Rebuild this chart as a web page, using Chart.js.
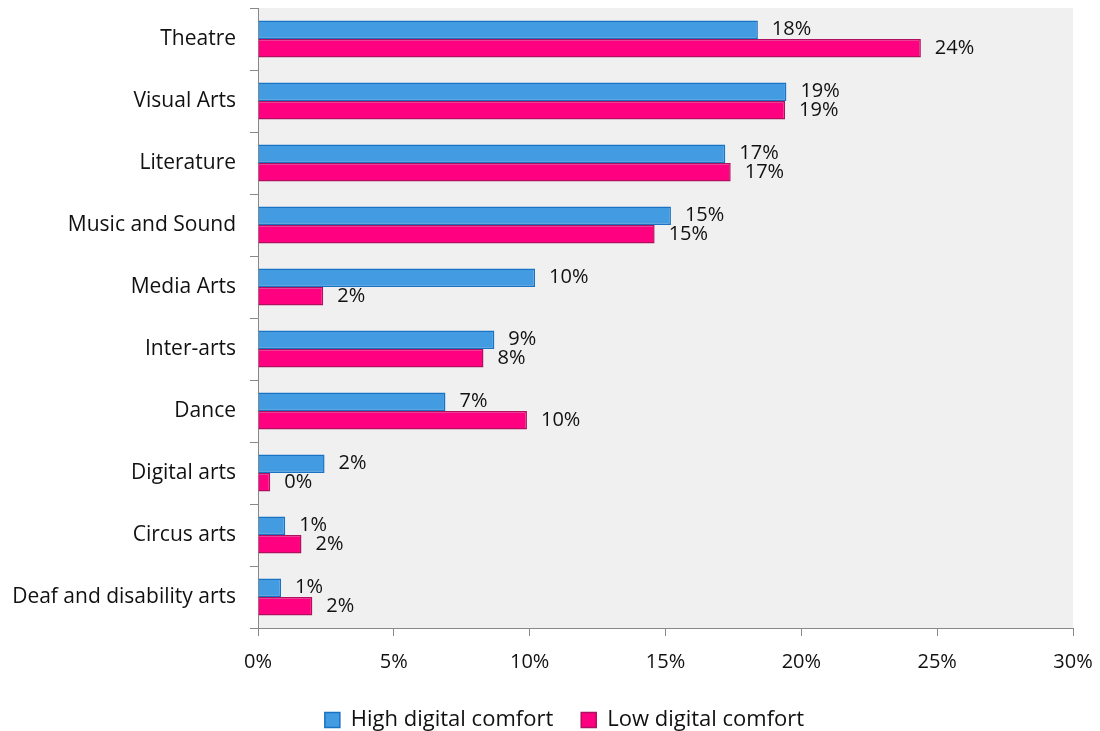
<!DOCTYPE html>
<html>
<head>
<meta charset="utf-8">
<script src="https://cdn.jsdelivr.net/npm/chart.js@4"></script>
<style>
  html, body { margin: 0; padding: 0; background: #fff; overflow: hidden; }
  canvas { display: block; }
</style>
</head>
<body>
<canvas id="chart" width="1100" height="741"></canvas>
<script>
const categories = ['Theatre', 'Visual Arts', 'Literature', 'Music and Sound', 'Media Arts',
  'Inter-arts', 'Dance', 'Digital arts', 'Circus arts', 'Deaf and disability arts'];
const highComfort = [18.4, 19.45, 17.2, 15.2, 10.2, 8.7, 6.9, 2.45, 1.0, 0.85];
const lowComfort = [24.4, 19.4, 17.4, 14.6, 2.4, 8.3, 9.9, 0.45, 1.6, 2.0];
const xTicks = [0, 5, 10, 15, 20, 25, 30];

const FONT = "'Open Sans', 'Noto Sans', sans-serif";

// grey panel behind the bars
const panelBg = {
  id: 'panelBg',
  beforeDraw(chart) {
    const { ctx, chartArea: a } = chart;
    ctx.save();
    ctx.fillStyle = '#f0f0f0';
    ctx.fillRect(a.left, a.top, a.right - a.left, a.bottom - a.top);
    ctx.restore();
  }
};

// centre the legend under the plot panel rather than the whole canvas
const legendShift = {
  id: 'legendShift',
  afterLayout(chart) {
    chart.legend.left += 56;
  }
};

// percentage labels just past the end of each bar
const barLabels = {
  id: 'barLabels',
  afterDatasetsDraw(chart) {
    const ctx = chart.ctx;
    ctx.save();
    ctx.font = '20px ' + FONT;
    ctx.fillStyle = '#111';
    ctx.textAlign = 'left';
    ctx.textBaseline = 'middle';
    chart.data.datasets.forEach((ds, i) => {
      chart.getDatasetMeta(i).data.forEach((bar, j) => {
        ctx.fillText(Math.round(ds.data[j]) + '%', bar.x + 14, bar.y);
      });
    });
    ctx.restore();
  }
};

new Chart(document.getElementById('chart'), {
  type: 'bar',
  data: {
    labels: categories,
    datasets: [
      {
        label: 'High digital comfort',
        data: highComfort,
        backgroundColor: '#439be2',
        borderColor: '#1a72c4',
        borderWidth: 1.5
      },
      {
        label: 'Low digital comfort',
        data: lowComfort,
        backgroundColor: '#ff0080',
        borderColor: '#b0105f',
        borderWidth: 1.5
      }
    ]
  },
  options: {
    indexAxis: 'y',
    responsive: false,
    animation: false,
    categoryPercentage: 0.6,
    barPercentage: 1,
    layout: { padding: { top: 8, right: 27, left: 0, bottom: 0 } },
    scales: {
      x: {
        min: 0,
        max: 30,
        afterBuildTicks: s => { s.ticks = xTicks.map(v => ({ value: v })); },
        afterFit: s => {
          s.height = 53;
          s.paddingLeft = 0;
          s.paddingRight = 0;
        },
        grid: { drawOnChartArea: false, color: '#888', tickLength: 8 },
        border: { color: '#888', width: 1 },
        ticks: {
          padding: 14,
          color: '#111',
          font: { family: FONT, size: 20 },
          callback: v => v + '%'
        }
      },
      y: {
        afterFit: s => {
          s.width = 258;
          s.paddingTop = 0;
          s.paddingBottom = 0;
        },
        grid: { drawOnChartArea: false, color: '#888', tickLength: 8, offset: true },
        border: { color: '#888', width: 1 },
        ticks: {
          padding: 14,
          color: '#111',
          font: { family: FONT, size: 21 }
        }
      }
    },
    plugins: {
      legend: {
        position: 'bottom',
        labels: {
          boxWidth: 15,
          boxHeight: 15,
          padding: 28,
          color: '#111',
          font: { family: FONT, size: 22 }
        }
      },
      tooltip: { enabled: false }
    }
  },
  plugins: [panelBg, legendShift, barLabels]
});
</script>
</body>
</html>
